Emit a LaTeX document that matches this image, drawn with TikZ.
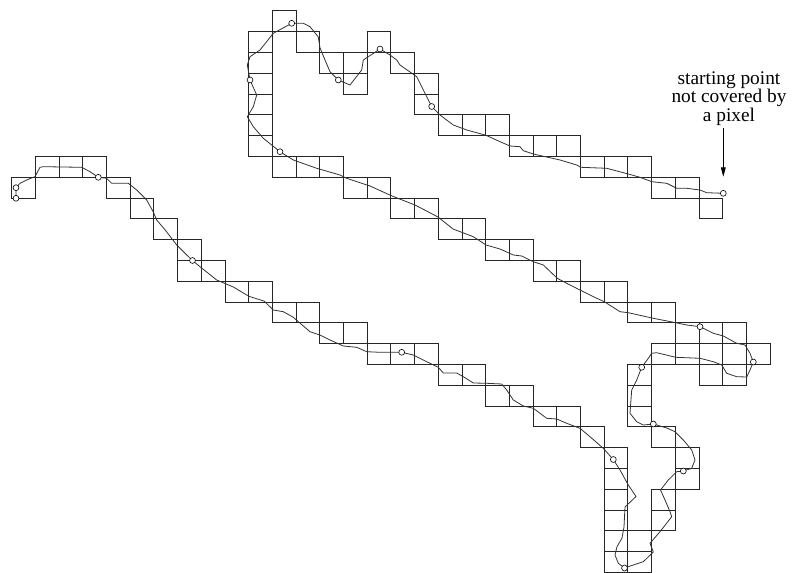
\documentclass[tikz,border=0pt]{standalone}
\usepackage{fontspec}
\setmainfont{Liberation Serif}
\usetikzlibrary{arrows.meta}

\begin{document}
\begin{tikzpicture}[
    x=0.75pt, y=-0.75pt,
    pixel/.style={draw=black!85, line width=0.65pt},
    trace/.style={draw=black!80, line width=0.6pt, line join=round},
    knot/.style={draw, circle, fill=white, inner sep=0pt, minimum size=4.4pt, line width=0.45pt},
    pointer/.style={-{Triangle[length=7pt, width=3.6pt]}, line width=0.6pt},
  ]
  \useasboundingbox (0,0) rectangle (796,573);

  % Pixels (row / columns)
  \foreach \r/\cols in {0/{11}, 1/{10,12,15}, 2/{10,13,14,16}, 3/{10,14,17},
      4/{10,17}, 5/{10,18,19,20}, 6/{10,21,22,23}, 7/{1,2,3,11,12,13,24,25,26},
      8/{0,4,14,15,27,28}, 9/{5,16,17,29}, 10/{6,18,19}, 11/{7,20,21},
      12/{7,8,22,23}, 13/{9,10,24,25}, 14/{11,12,26,27}, 15/{13,14,28,29,30},
      16/{15,16,17,27,28,29,30,31}, 17/{18,19,26,29,30}, 18/{20,21,26},
      19/{22,23,26}, 20/{24,27}, 21/{25,28}, 22/{25,28}, 23/{25,27},
      24/{25,27}, 25/{25,26}, 26/{25,26}}
    \foreach \c in \cols
      \draw[pixel] ({11.7+23.7*\c},{10.9+20.8*\r}) rectangle ++(23.7,20.8);

  % Sample points on the curve
  \coordinate (p0) at (723.3,193.3);
  \coordinate (p1) at (431.7,106.5);
  \coordinate (p2) at (380,49);
  \coordinate (p3) at (338.3,80);
  \coordinate (p4) at (291.7,23.3);
  \coordinate (p5) at (250,80);
  \coordinate (p6) at (280,151.7);
  \coordinate (p7) at (700,326.7);
  \coordinate (p8) at (753.3,362);
  \coordinate (p9) at (641.7,367.3);
  \coordinate (p10) at (653.3,424);
  \coordinate (p11) at (683.3,471);
  \coordinate (p12) at (624.5,568);
  \coordinate (p13) at (613.3,459.5);
  \coordinate (p14) at (401.7,352.3);
  \coordinate (p15) at (192.5,260.5);
  \coordinate (p16) at (98.3,177.3);
  \coordinate (p17) at (16,187.7);
  \coordinate (p18) at (16,198.3);

  % The curve
  \draw[trace] (p0) -- (706.7,192.7) -- (700,190) -- (686.7,188.3) -- (676.7,188.3)
    -- (666.7,183.3) -- (651.7,181.7) -- (640,177.3) -- (628.3,174) -- (606.7,168.3)
    -- (580.7,167.3) -- (576.7,165) -- (560,160) -- (533.3,154) -- (523.3,150.7)
    -- (520,146.7) -- (510,146) -- (500,141.7) -- (486,135.3) -- (466.7,130)
    -- (453.3,125) -- (440,115) -- (p1)
    -- (426.7,96.7) -- (416.7,76.7) -- (400,65) -- (396.7,60) -- (390,55) -- (p2)
    -- (363.3,60) -- (361.7,70) -- (350,85) -- (p3)
    -- (330,71.7) -- (325,60) -- (320,48) -- (318.3,37) -- (310,26.7) -- (303.3,23.3) -- (p4)
    -- (273.3,33.3) -- (260,50) -- (250,56.7) -- (247.3,65) -- (p5)
    -- (256.7,95) -- (253.3,106.7) -- (247.3,116.7) -- (253.3,126.7) -- (263.3,138.3) -- (p6)
    -- (293.3,160) -- (316.7,168.3) -- (340,175) -- (346.7,178.3) -- (370,186)
    -- (392,196) -- (415,205) -- (438,217) -- (453,229) -- (473.3,236.7) -- (486,245)
    -- (500,249) -- (513.3,255) -- (521.7,256) -- (533.3,261.7) -- (543.3,265)
    -- (557.3,278.3) -- (566.7,283.3) -- (580,290) -- (593.3,296.7) -- (604.3,301.7)
    -- (620,311.7) -- (628.3,312.7) -- (653.3,318.3) -- (675.7,322.7) -- (686.7,325) -- (p7)
    -- (713.3,333.3) -- (723.3,336) -- (736.7,343.3) -- (745,345) -- (750,353.3) -- (p8)
    -- (750,370) -- (746.7,377) -- (736.7,376.7) -- (726.7,373.3) -- (721.7,365)
    -- (713.3,361.7) -- (700,358.3) -- (675.7,357.3) -- (656.7,352.7) -- (651.7,353.3)
    -- (648.3,358.3) -- (p9)
    -- (636.7,380) -- (631.7,390) -- (630,413.3) -- (636.7,421.7) -- (643.3,425) -- (p10)
    -- (666.7,428) -- (675,431.7) -- (683.3,440) -- (691.7,450) -- (695,460)
    -- (691.7,468.3) -- (p11)
    -- (676.7,471.7) -- (668.3,480) -- (660.5,490) -- (665,500) -- (670,511.7)
    -- (671.7,516.7) -- (660,531.7) -- (650,543.3) -- (653.3,552) -- (643.3,561.7)
    -- (628.3,566.7) -- (p12)
    -- (618.3,563.3) -- (615,555) -- (617,546.7) -- (622,538) -- (624,527) -- (625,507)
    -- (636,496.5) -- (628.3,485) -- (620,470) -- (p13)
    -- (603.3,448.3) -- (590,436.7) -- (580,428.3) -- (566.7,423.3) -- (556.7,419)
    -- (546.7,418.3) -- (533.3,408.3) -- (523.3,406) -- (513.3,400) -- (506.7,390)
    -- (501.7,384) -- (486.7,383.3) -- (473.3,383) -- (463.3,376.7) -- (456.7,373)
    -- (443.3,373) -- (438.3,367.3) -- (426.7,361.7) -- (413.3,355) -- (p14)
    -- (380,352.3) -- (366.7,351.7) -- (356.7,347.3) -- (343.3,346) -- (330,340)
    -- (320,335) -- (310,331.7) -- (298.3,321.7) -- (293.3,317.3) -- (283.3,311.7)
    -- (273.3,310) -- (264,301) -- (250,296.7) -- (246.7,295) -- (233.3,287)
    -- (216.7,280) -- (200,266.7) -- (p15)
    -- (185,253.3) -- (176.7,245) -- (166,231) -- (156.7,220) -- (153.3,212)
    -- (146.7,200) -- (136.7,190) -- (128.3,183.3) -- (111.7,183.3) -- (106.7,178.3) -- (p16)
    -- (90,171.7) -- (81.7,167.3) -- (43.3,166.7) -- (40,167.3) -- (35,176.7)
    -- (28.3,179.3) -- (20,183.3) -- (p17) -- (p18);

  \foreach \i in {0,...,18}
    \node[knot] (k\i) at (p\i) {};

  % Label
  \node[font=\fontsize{14.5}{13.9}\selectfont, align=center, inner sep=2pt] (note) at (729,98.5)
    {starting point\\not covered by\\a pixel};
  \draw[pointer] (note.south -| k0) -- ([yshift=10pt]k0.north);
\end{tikzpicture}
\end{document}
